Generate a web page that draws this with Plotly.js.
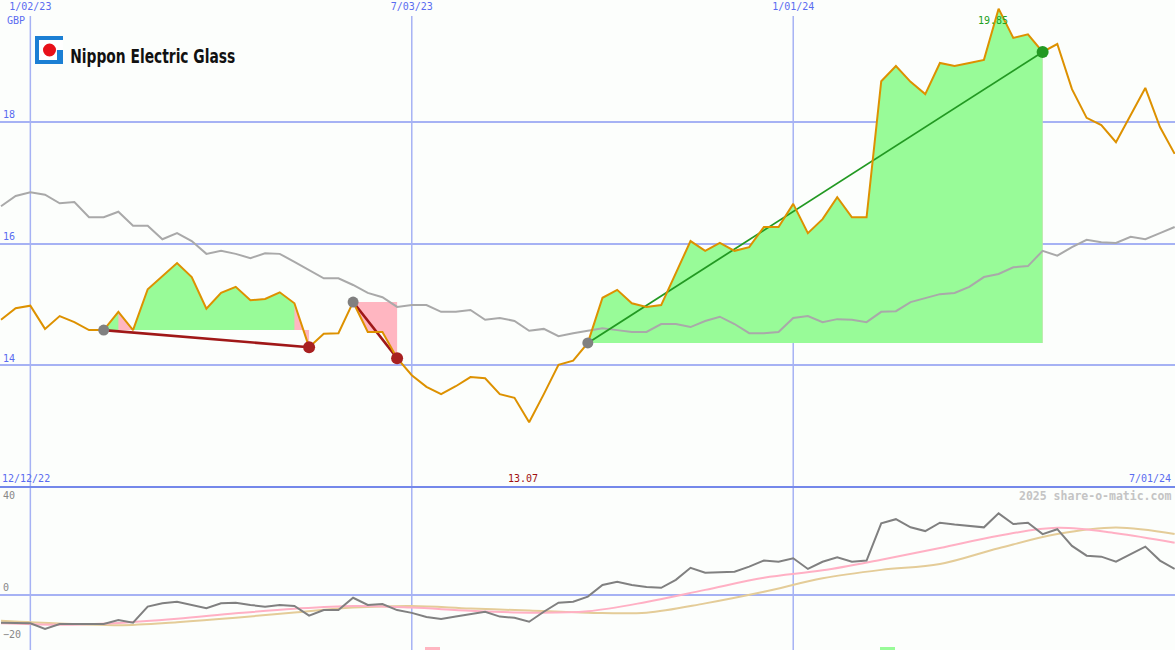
<!DOCTYPE html>
<html><head><meta charset="utf-8">
<script src="https://cdn.plot.ly/plotly-3.0.1.min.js"></script>
<style>html,body{margin:0;padding:0;background:#fcfefc}#chart{width:1175px;height:650px}</style>
</head><body><div id="chart"></div>
<script>
// ---- data ----
const dates = ['2022-12-19','2022-12-26','2023-01-02','2023-01-09','2023-01-16','2023-01-23','2023-01-30','2023-02-06','2023-02-13','2023-02-20',
 '2023-02-27','2023-03-06','2023-03-13','2023-03-20','2023-03-27','2023-04-03','2023-04-10','2023-04-17','2023-04-24','2023-05-01',
 '2023-05-08','2023-05-15','2023-05-22','2023-05-29','2023-06-05','2023-06-12','2023-06-19','2023-06-26','2023-07-03','2023-07-10',
 '2023-07-17','2023-07-24','2023-07-31','2023-08-07','2023-08-14','2023-08-21','2023-08-28','2023-09-04','2023-09-11','2023-09-18',
 '2023-09-25','2023-10-02','2023-10-09','2023-10-16','2023-10-23','2023-10-30','2023-11-06','2023-11-13','2023-11-20','2023-11-27',
 '2023-12-04','2023-12-11','2023-12-18','2023-12-25','2024-01-01','2024-01-08','2024-01-15','2024-01-22','2024-01-29','2024-02-05',
 '2024-02-12','2024-02-19','2024-02-26','2024-03-04','2024-03-11','2024-03-18','2024-03-25','2024-04-01','2024-04-08','2024-04-15',
 '2024-04-22','2024-04-29','2024-05-06','2024-05-13','2024-05-20','2024-05-27','2024-06-03','2024-06-10','2024-06-17','2024-06-24','2024-07-01'];

const price = [14.75,14.94,14.98,14.60,14.81,14.71,14.58,14.58,14.88,14.58,
 15.25,15.47,15.68,15.45,14.93,15.19,15.29,15.07,15.09,15.20,
 15.02,14.30,14.52,14.53,15.04,14.55,14.55,14.12,13.84,13.65,
 13.53,13.66,13.81,13.79,13.53,13.47,13.07,13.53,14.01,14.08,
 14.37,15.11,15.24,15.02,14.96,14.99,15.52,16.04,15.88,16.01,
 15.88,15.94,16.27,16.27,16.65,16.17,16.40,16.76,16.43,16.43,
 18.66,18.91,18.65,18.45,18.96,18.91,18.96,19.01,19.85,19.37,
 19.43,19.14,19.27,18.53,18.06,17.94,17.66,18.11,18.55,17.91,17.47];

const movingAvg = [16.61,16.78,16.84,16.80,16.66,16.68,16.43,16.43,16.52,16.29,
 16.29,16.07,16.17,16.04,15.83,15.88,15.83,15.76,15.84,15.83,
 15.70,15.57,15.43,15.43,15.32,15.19,15.12,14.96,14.99,14.99,
 14.88,14.88,14.91,14.75,14.78,14.73,14.57,14.60,14.48,14.53,
 14.57,14.61,14.58,14.55,14.55,14.68,14.68,14.63,14.73,14.80,
 14.68,14.53,14.53,14.55,14.78,14.81,14.71,14.76,14.75,14.71,
 14.88,14.89,15.04,15.11,15.17,15.19,15.29,15.45,15.50,15.61,
 15.63,15.88,15.80,15.94,16.06,16.02,16.01,16.11,16.07,16.17,16.27];

const relPerf = [-11.9,-12.0,-12.2,-14.6,-12.5,-12.5,-12.5,-12.5,-10.8,-11.9,
 -5.0,-3.6,-2.9,-4.3,-5.7,-3.6,-3.3,-4.3,-5.0,-4.3,
 -4.7,-8.9,-6.5,-6.5,-1.2,-4.3,-3.9,-6.5,-7.7,-9.5,
 -10.3,-9.3,-8.2,-7.2,-9.3,-9.8,-11.5,-7.2,-3.3,-2.9,
 -0.7,4.3,5.7,4.3,3.4,3.1,6.5,11.7,9.6,9.9,
 10.0,12.2,14.8,14.3,15.8,11.2,14.3,16.2,14.3,14.8,
 30.8,32.6,29.1,27.5,31.1,30.3,29.7,29.1,35.1,30.5,
 31.1,26.2,28.3,21.1,16.9,16.5,14.3,17.6,20.8,14.8,11.2];

const avgDates = ['2022-12-19','2023-01-16','2023-02-13','2023-03-13','2023-04-10','2023-05-08','2023-06-05','2023-07-03','2023-07-31','2023-08-28',
 '2023-09-25','2023-10-23','2023-11-20','2023-12-18','2024-01-15','2024-02-12','2024-03-11','2024-04-08','2024-05-06','2024-06-03','2024-07-01'];
const fastAvg = [-12.2,-12.8,-12.0,-10.2,-7.9,-5.9,-4.7,-5.4,-6.8,-7.6,-7.0,-3.0,2.2,7.4,10.6,15.2,20.2,25.5,28.9,26.6,22.5];
const slowAvg = [-11.1,-12.3,-13.0,-11.7,-9.8,-7.5,-5.4,-4.7,-5.8,-6.7,-7.6,-7.6,-3.6,1.4,7.2,10.8,13.3,20.1,26.2,29.0,26.2];

const trendStart = ['2023-02-06','2023-06-05','2023-09-25'];
const trendEnd   = ['2023-05-15','2023-06-26','2024-04-29'];

const gridDates = ['2023-01-02','2023-07-03','2024-01-01'];
const signalDates = ['2023-07-13','2024-02-15'];
const signalColors = ['#ffb6c1','#98fb98'];
const signalHeight = [1.3,1.3];

const companyName = 'Nippon Electric Glass';
const currency = 'GBP';
const periodStart = '12/12/22';
const periodEnd = '7/01/24';
const credit = '2025 share-o-matic.com';

// ---- styles / layout constants ----
const W = 1175, H = 650;
const split = 1 - 487 / H;
const topRange = [12.008, 19.992];
const botRange = [-23.66, 46.45];
const xRange = ['2022-12-18 12:30', '2024-07-01 04:00'];
const GREEN = '#98fb98', PINK = '#ffb6c1';
const gridCol = '#a6b2f4';
const blue = '#5a6cf0';
const mono = 'DejaVu Sans Mono';

const traces = [];
// fills: pink = whole area between price and start level, green = runs above start level
trendStart.forEach((sd, j) => {
  const s = dates.indexOf(sd), e = dates.indexOf(trendEnd[j]);
  const base = price[s];
  const px_ = [], py_ = [];
  for (let i = s; i <= e; i++) { px_.push(dates[i]); py_.push(price[i]); }
  px_.push(dates[e], dates[s]); py_.push(base, base);
  traces.push({x: px_, y: py_, type: 'scatter', mode: 'lines', fill: 'toself', fillcolor: PINK,
    line: {width: 0}, hoverinfo: 'skip', xaxis: 'x', yaxis: 'y'});
  let i = s + 1;
  while (i <= e) {
    if (price[i] > base) {
      let k = i;
      while (k + 1 <= e && price[k + 1] > base) k++;
      const gx = [dates[i - 1]], gy = [base];
      for (let m = i - 1; m <= k; m++) { gx.push(dates[m]); gy.push(price[m]); }
      gx.push(dates[k]); gy.push(base);
      traces.push({x: gx, y: gy, type: 'scatter', mode: 'lines', fill: 'toself', fillcolor: GREEN,
        line: {width: 0}, hoverinfo: 'skip', xaxis: 'x', yaxis: 'y'});
      i = k + 1;
    } else i++;
  }
});
// moving average (top)
traces.push({x: dates, y: movingAvg, type: 'scatter', mode: 'lines', line: {color: '#a9a9a9', width: 2}, xaxis: 'x', yaxis: 'y'});
// trend lines
trendStart.forEach((sd, j) => {
  const s = dates.indexOf(sd), e = dates.indexOf(trendEnd[j]);
  const up = price[e] > price[s];
  traces.push({x: [dates[s], dates[e]], y: [price[s], price[e]], type: 'scatter', mode: 'lines',
    line: {color: up ? '#229922' : '#a01818', width: up ? 1.8 : 2.6}, xaxis: 'x', yaxis: 'y'});
});
// price
traces.push({x: dates, y: price, type: 'scatter', mode: 'lines', line: {color: '#dd9100', width: 2}, xaxis: 'x', yaxis: 'y'});
// dots
trendStart.forEach((sd, j) => {
  const s = dates.indexOf(sd), e = dates.indexOf(trendEnd[j]);
  const up = price[e] > price[s];
  traces.push({x: [dates[s]], y: [price[s]], type: 'scatter', mode: 'markers', marker: {color: '#808080', size: 11}, xaxis: 'x', yaxis: 'y'});
  traces.push({x: [dates[e]], y: [price[e]], type: 'scatter', mode: 'markers', marker: {color: up ? '#229922' : '#a82020', size: 12}, xaxis: 'x', yaxis: 'y'});
});
// bottom panel
traces.push({x: avgDates, y: slowAvg, type: 'scatter', mode: 'lines', line: {color: '#e4cc98', width: 2, shape: 'spline'}, xaxis: 'x2', yaxis: 'y2'});
traces.push({x: avgDates, y: fastAvg, type: 'scatter', mode: 'lines', line: {color: '#ffb0c4', width: 2, shape: 'spline'}, xaxis: 'x2', yaxis: 'y2'});
traces.push({x: dates, y: relPerf, type: 'scatter', mode: 'lines', line: {color: '#808080', width: 2}, xaxis: 'x2', yaxis: 'y2'});
traces.push({x: signalDates, y: signalHeight, base: botRange[0], type: 'bar', width: 7 * 86400000,
  marker: {color: signalColors}, xaxis: 'x2', yaxis: 'y2'});

// labels from data
const maxI = price.indexOf(Math.max(...price));
const minI = price.indexOf(Math.min(...price));

const py = y => 1 - y / H, px = x => x / W;

const shapes = [];
gridDates.forEach(d => shapes.push({type: 'line', xref: 'x', yref: 'paper', x0: d, x1: d, y0: 0, y1: py(16),
  line: {color: gridCol, width: 1.5}, layer: 'below'}));
shapes.push({type: 'line', xref: 'paper', yref: 'paper', x0: 0, x1: 1, y0: split, y1: split, line: {color: '#7488ea', width: 2}});
// logo
shapes.push({type: 'rect', xref: 'paper', yref: 'paper', x0: px(35), x1: px(63), y0: py(64), y1: py(36), line: {width: 0}, fillcolor: '#1b7fd4'});
shapes.push({type: 'rect', xref: 'paper', yref: 'paper', x0: px(39), x1: px(63), y0: py(60), y1: py(40), line: {width: 0}, fillcolor: '#ffffff'});
shapes.push({type: 'rect', xref: 'paper', yref: 'paper', x0: px(57), x1: px(63), y0: py(60), y1: py(50), line: {width: 0}, fillcolor: '#1b7fd4'});
shapes.push({type: 'circle', xref: 'paper', yref: 'paper', x0: px(43), x1: px(56), y0: py(56.5), y1: py(43.5), line: {width: 0}, fillcolor: '#e8101a'});

const annotations = [
  {xref: 'paper', yref: 'paper', x: px(5), y: py(21), text: currency, showarrow: false, xanchor: 'left', yanchor: 'middle',
    font: {family: mono, size: 10, color: blue}},
  {xref: 'paper', yref: 'paper', x: px(152.5), y: py(56.5), text: '<b>' + companyName + '</b>', showarrow: false, xanchor: 'center', yanchor: 'middle',
    font: {family: 'DejaVu Sans Condensed', size: 19.5, color: '#111'}, name: 'title'},
  {xref: 'paper', yref: 'paper', x: 0, y: py(478), text: periodStart, showarrow: false, xanchor: 'left', yanchor: 'middle',
    font: {family: mono, size: 10, color: blue}},
  {xref: 'paper', yref: 'paper', x: px(1173), y: py(478), text: periodEnd, showarrow: false, xanchor: 'right', yanchor: 'middle',
    font: {family: mono, size: 10, color: blue}},
  {xref: 'x', yref: 'paper', x: dates[minI], y: py(478), xshift: -6, text: price[minI].toFixed(2), showarrow: false, yanchor: 'middle',
    font: {family: mono, size: 10, color: '#a01010'}},
  {xref: 'x', yref: 'paper', x: dates[maxI], y: py(21), xshift: -6, text: price[maxI].toFixed(2), showarrow: false, yanchor: 'middle',
    font: {family: mono, size: 10, color: '#22a022'}},
  {xref: 'paper', yref: 'paper', x: px(1173), y: py(496), text: '<b>' + credit + '</b>', showarrow: false, xanchor: 'right', yanchor: 'middle',
    font: {family: mono, size: 11.5, color: '#c4c4c4'}}
];

const layout = {
  width: W, height: H, margin: {l: 0, r: 0, t: 0, b: 0},
  paper_bgcolor: '#fcfefc', plot_bgcolor: '#fcfefc', showlegend: false,
  xaxis: {domain: [0, 1], anchor: 'y', type: 'date', range: xRange, side: 'top', tickvals: gridDates, tickformat: '%-m/%d/%y',
    ticklabelposition: 'inside', ticks: '', showgrid: false, zeroline: false, showline: false,
    tickfont: {family: mono, size: 10, color: blue}},
  yaxis: {domain: [split, 1], anchor: 'x', range: topRange, tickvals: [14, 16, 18], ticklabelposition: 'inside top', ticks: '',
    showgrid: true, gridcolor: gridCol, gridwidth: 2, zeroline: false, showline: false,
    tickfont: {family: mono, size: 10, color: blue}},
  xaxis2: {domain: [0, 1], anchor: 'y2', type: 'date', range: xRange, showticklabels: false, ticks: '', showgrid: false, zeroline: false, showline: false},
  yaxis2: {domain: [0, split], anchor: 'x2', range: botRange, tickvals: [40, 0, -20], ticklabelposition: 'inside top', ticks: '',
    showgrid: false, zeroline: true, zerolinecolor: gridCol, zerolinewidth: 2, showline: false,
    tickfont: {family: mono, size: 10, color: '#888'}},
  shapes: shapes, annotations: annotations, bargap: 0
};

function squeezeTitle() {
  document.querySelectorAll('.annotation-text').forEach(t => {
    if (t.textContent === companyName) {
      t.setAttribute('textLength', '165');
      t.setAttribute('lengthAdjust', 'spacingAndGlyphs');
    }
  });
}
Plotly.newPlot('chart', traces, layout, {displayModeBar: false, staticPlot: true}).then(squeezeTitle);
squeezeTitle();
</script>
</body></html>
